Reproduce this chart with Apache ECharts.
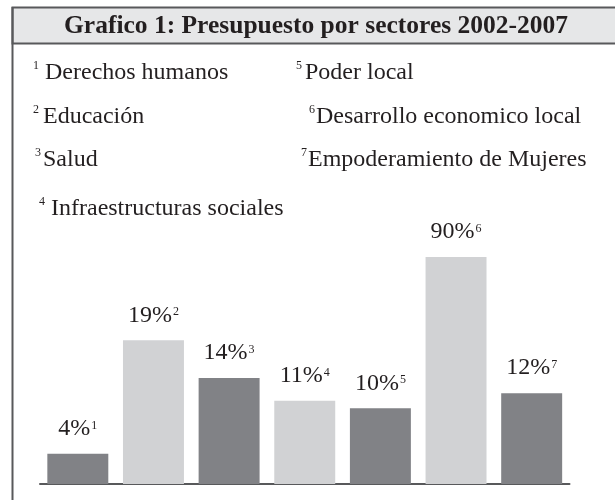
<!DOCTYPE html>
<html>
<head>
<meta charset="utf-8">
<script src="https://cdn.jsdelivr.net/npm/echarts@6/dist/echarts.min.js"></script>
<style>
html,body{margin:0;padding:0;background:#fff;}
#chart{width:615px;height:500px;}
</style>
</head>
<body>
<div id="chart"></div>
<script>
// ---- data ----
const titleText = 'Grafico 1: Presupuesto por sectores 2002-2007';
const categories = ['Derechos humanos', 'Educación', 'Salud', 'Infraestructuras sociales', 'Poder local', 'Desarrollo economico local', 'Empoderamiento de Mujeres'];
const percentages = [4, 19, 14, 11, 10, 90, 12];
const footnotes = ['1', '2', '3', '4', '5', '6', '7'];

// ---- layout/style (not data) ----
const FONT = '"Liberation Serif", "DejaVu Serif", serif';
const TEXT = '#231f20';
const DARK = '#818286';
const LIGHT = '#d1d2d4';
const LINE = '#58595b';
// legend positions: [supX, textX, centerY]
const legendPos = [
  [33, 45, 73], [33, 43, 117], [35, 43, 160], [39, 51, 209],
  [296, 305, 73], [309, 316, 117], [301, 308, 160]
];

const graphics = [
  { type: 'rect', shape: { x: 12.5, y: 7.5, width: 620, height: 36 },
    style: { fill: '#e6e7e8', stroke: LINE, lineWidth: 2 }, z: 0 },
  { type: 'line', shape: { x1: 12.5, y1: 7, x2: 12.5, y2: 500 },
    style: { stroke: LINE, lineWidth: 2 }, z: 1 },
  { type: 'text', x: 316, y: 26, z: 2,
    style: { text: titleText, font: 'bold 25.5px ' + FONT, fill: TEXT, align: 'center', verticalAlign: 'middle' } }
];
categories.forEach((name, i) => {
  const p = legendPos[i];
  graphics.push({ type: 'text', x: p[0], y: p[2] - 7, z: 2,
    style: { text: footnotes[i], font: '12px ' + FONT, fill: TEXT, align: 'left', verticalAlign: 'middle' } });
  graphics.push({ type: 'text', x: p[1], y: p[2], z: 2,
    style: { text: name, font: '24px ' + FONT, fill: TEXT, align: 'left', verticalAlign: 'middle' } });
});

const chart = echarts.init(document.getElementById('chart'), null, { renderer: 'canvas' });
chart.setOption({
  animation: false,
  backgroundColor: '#fff',
  grid: { left: 40, right: 45.5, top: 257, bottom: 16, containLabel: false },
  xAxis: {
    type: 'category', data: categories,
    axisLine: { show: true, lineStyle: { color: LINE, width: 2 } },
    axisTick: { show: false }, axisLabel: { show: false }, splitLine: { show: false }
  },
  yAxis: { type: 'value', min: 0, max: 30, show: false, splitLine: { show: false } },
  series: [{
    type: 'bar',
    data: percentages,
    clip: true,
    barCategoryGap: '19.4%',
    itemStyle: { color: p => (p.dataIndex % 2 === 0 ? DARK : LIGHT) },
    label: {
      show: true, position: 'top', distance: 12,
      formatter: p => '{v|' + p.value + '%}{s|' + footnotes[p.dataIndex] + '}',
      rich: {
        v: { fontFamily: FONT, fontSize: 24, color: TEXT, lineHeight: 26 },
        s: { fontFamily: FONT, fontSize: 12, color: TEXT, verticalAlign: 'top', lineHeight: 13, padding: [4, 0, 0, 1] }
      }
    }
  }],
  graphic: graphics
});
</script>
</body>
</html>
